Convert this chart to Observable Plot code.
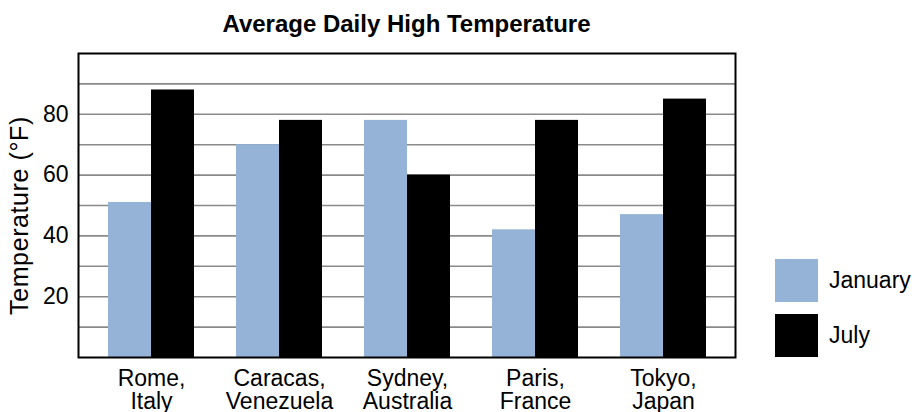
<!DOCTYPE html>
<html>
<head>
<meta charset="utf-8">
<script src="https://cdn.jsdelivr.net/npm/d3@7"></script>
<script src="https://cdn.jsdelivr.net/npm/@observablehq/plot@0.6"></script>
<style>
  html, body { margin: 0; padding: 0; background: #fff; }
  body { width: 914px; height: 412px; position: relative; overflow: hidden;
         font-family: "Liberation Sans", Arial, Helvetica, sans-serif; }
  #title { position: absolute; left: 0; top: 0; width: 760px; height: 48px; box-sizing: border-box;
           padding-left: 78px; padding-right: 25px; text-align: center; line-height: 48px;
           font-weight: bold; font-size: 24px; color: #000; }
  #chart { position: absolute; left: 0; top: 46px; }
  #chart g[aria-label="y-axis label"] { translate: 0px 10px; }
  #chart g[aria-label="y-axis label"] text { font-size: 25px; letter-spacing: 0.6px; }
  #legend { position: absolute; left: 775px; top: 259px; }
  #legend [class$="-swatch"] { margin-bottom: 12px !important; padding-bottom: 0 !important;
           font-size: 23px; color: #000; display: flex; align-items: center; }
  #legend [class$="-swatch"] svg { margin-right: 11px !important; }
</style>
</head>
<body>
<div id="title">Average Daily High Temperature</div>
<div id="chart"></div>
<div id="legend"></div>
<script>
const cities = ["Rome", "Caracas", "Sydney", "Paris", "Tokyo"];
const cityLabels = ["Rome,\nItaly", "Caracas,\nVenezuela", "Sydney,\nAustralia", "Paris,\nFrance", "Tokyo,\nJapan"];
const january = [51, 70, 78, 42, 47];
const july = [88, 78, 60, 78, 85];
const months = ["January", "July"];
const colors = ["#95B3D7", "#000000"];
const yTicks = [20, 40, 60, 80];
const yGrid = [10, 20, 30, 40, 50, 60, 70, 80, 90];

const rows = cities.flatMap((c, i) => [
  {city: c, month: "January", temp: january[i]},
  {city: c, month: "July", temp: july[i]}
]);

const font = '"Liberation Sans", Arial, Helvetica, sans-serif';

const chart = Plot.plot({
  width: 760,
  height: 366,
  marginLeft: 78,
  marginRight: 25,
  marginTop: 7,
  marginBottom: 55,
  style: {fontFamily: font, fontSize: "23px", color: "#000", background: "#fff"},
  x: {domain: cities, paddingInner: 0.331, paddingOuter: 0.222, axis: null},
  y: {domain: [0, 100], ticks: yTicks, tickSize: 0, tickPadding: 10,
      label: "Temperature (°F)", labelArrow: "none", labelAnchor: "center", labelOffset: 68},
  color: {domain: months, range: colors},
  marks: [
    Plot.ruleY(yGrid, {stroke: "#8a8a8a", strokeWidth: 1.6}),
    Plot.barY(rows.filter(d => d.month === "January"), {x: "city", y: "temp", fill: "month", insetRight: 43}),
    Plot.barY(rows.filter(d => d.month === "July"), {x: "city", y: "temp", fill: "month", insetLeft: 43}),
    Plot.text(cities, {x: d => d, text: (d, i) => cityLabels[i], frameAnchor: "bottom",
      lineAnchor: "top", dy: 12, lineHeight: 1, fontSize: 23, fill: "#000"}),
    Plot.frame({stroke: "#000", strokeWidth: 2})
  ]
});
document.getElementById("chart").appendChild(chart);

const legend = Plot.legend({
  color: {domain: months, range: colors},
  legend: "swatches",
  columns: 1,
  swatchSize: 43,
  className: "leg",
  style: {fontFamily: font, fontSize: "23px", color: "#000"}
});
document.getElementById("legend").appendChild(legend);
</script>
</body>
</html>
